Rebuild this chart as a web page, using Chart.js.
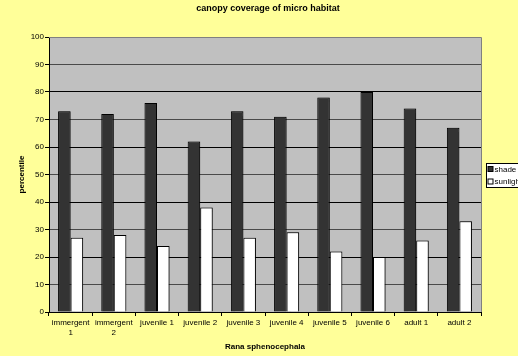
<!DOCTYPE html>
<html>
<head>
<meta charset="utf-8">
<style>
  html, body { margin: 0; padding: 0; background: #FFFF99; }
  #wrap { width: 518px; height: 356px; }
</style>
<script src="https://cdn.jsdelivr.net/npm/chart.js@4/dist/chart.umd.min.js"></script>
</head>
<body>
<div id="wrap"><canvas id="c" width="518" height="356"></canvas></div>
<script>
// Life stages of Rana sphenocephala
const stages = [["immergent", "1"], ["immergent", "2"], "juvenile 1", "juvenile 2", "juvenile 3",
                "juvenile 4", "juvenile 5", "juvenile 6", "adult 1", "adult 2"];
// Percent canopy coverage per stage
const shade    = [73, 72, 76, 62, 73, 71, 78, 80, 74, 67];
const sunlight = [27, 28, 24, 38, 27, 29, 22, 20, 26, 33];
const seriesNames = ["shade", "sunlight"];
const chartTitle = 'canopy coverage of micro habitat';
const yTicks = { min: 0, max: 100, step: 10 };

const FONT = "'Liberation Sans', Arial, sans-serif";

// grey plot backdrop plus the grey top/right frame
const plotArea = {
  id: 'plotArea',
  beforeDraw(chart) {
    const { ctx, chartArea: a } = chart;
    ctx.save();
    ctx.fillStyle = '#FFFF99';
    ctx.fillRect(0, 0, chart.width, chart.height);
    ctx.fillStyle = '#C0C0C0';
    ctx.fillRect(a.left, a.top, a.right - a.left, a.bottom - a.top);
    ctx.restore();
  },
  beforeDatasetsDraw(chart) {
    // soft edge around each bar
    const { ctx } = chart;
    ctx.save();
    ctx.shadowColor = 'rgba(0,0,0,0.35)';
    ctx.shadowBlur = 1.5;
    ctx.shadowOffsetX = 1;
    ctx.shadowOffsetY = 0;
  },
  afterDatasetsDraw(chart) {
    const { ctx, chartArea: a } = chart;
    ctx.restore();
    ctx.save();
    ctx.strokeStyle = '#808080';
    ctx.lineWidth = 1;
    ctx.beginPath();
    ctx.moveTo(a.left, Math.round(a.top) + 0.5);
    ctx.lineTo(Math.round(a.right) + 0.5, Math.round(a.top) + 0.5);
    ctx.lineTo(Math.round(a.right) + 0.5, a.bottom);
    ctx.stroke();
    ctx.restore();
  }
};

// chart heading, centred over the whole figure
const heading = {
  id: 'heading',
  afterDraw(chart) {
    const { ctx } = chart;
    ctx.save();
    ctx.font = 'bold 9px ' + FONT;
    ctx.fillStyle = '#000';
    ctx.textAlign = 'center';
    ctx.textBaseline = 'middle';
    ctx.fillText(chartTitle, 268, 9);
    ctx.restore();
  }
};

// boxed legend on the right edge
const boxLegend = {
  id: 'boxLegend',
  afterDraw(chart) {
    const { ctx } = chart;
    const x = 486.5, y = 163.5, w = 44, h = 24;
    ctx.save();
    ctx.fillStyle = '#FFFFFF';
    ctx.fillRect(x, y, w, h);
    ctx.strokeStyle = '#000';
    ctx.lineWidth = 1;
    ctx.strokeRect(x, y, w, h);
    ctx.font = '8px ' + FONT;
    ctx.textBaseline = 'middle';
    chart.data.datasets.forEach((ds, i) => {
      const ry = y + 6 + i * 12.5;
      ctx.fillStyle = ds.backgroundColor;
      ctx.fillRect(x + 1.5, ry - 3, 5, 5);
      ctx.strokeStyle = '#000';
      ctx.strokeRect(x + 1.5, ry - 3, 5, 5);
      ctx.fillStyle = '#000';
      ctx.fillText(ds.label, x + 8, ry);
    });
    ctx.restore();
  }
};

new Chart(document.getElementById('c'), {
  type: 'bar',
  data: {
    labels: stages,
    datasets: [
      { label: seriesNames[0], data: shade, backgroundColor: '#333333', borderColor: '#000', borderWidth: 1 },
      { label: seriesNames[1], data: sunlight, backgroundColor: '#FFFFFF', borderColor: '#000', borderWidth: 1 }
    ]
  },
  options: {
    responsive: false,
    animation: false,
    devicePixelRatio: 1,
    layout: { padding: { left: 0, right: 37, top: 37, bottom: 0 } },
    datasets: { bar: { categoryPercentage: 0.58, barPercentage: 1.0 } },
    plugins: {
      legend: { display: false },
      tooltip: { enabled: false },
      title: { display: false }
    },
    scales: {
      x: {
        afterFit(scale) { scale.height = 44; },
        border: { color: '#000', width: 1 },
        grid: { offset: true, drawOnChartArea: false, tickLength: 4, color: '#000' },
        ticks: { color: '#000', font: { family: FONT, size: 8 }, padding: 2, maxRotation: 0, autoSkip: false },
        title: {
          display: true,
          text: 'Rana sphenocephala',
          color: '#000',
          font: { family: FONT, size: 8, weight: 'bold' },
          padding: { top: 0, bottom: 4 }
        }
      },
      y: {
        min: yTicks.min,
        max: yTicks.max,
        afterFit(scale) { scale.width = 49; },
        border: { color: '#000', width: 1 },
        grid: {
          tickLength: 4,
          tickColor: '#000',
          color: (c) => {
            const v = c.tick ? c.tick.value : 0;
            if (v === yTicks.max) return 'rgba(0,0,0,0)';
            return v % 20 === 0 ? '#000000' : '#4a4a4a';
          }
        },
        ticks: { stepSize: yTicks.step, color: '#000', font: { family: FONT, size: 8 }, padding: 1 },
        title: {
          display: true,
          text: 'percentile',
          color: '#000',
          font: { family: FONT, size: 8, weight: 'bold' },
          padding: { top: 17, bottom: 0 }
        }
      }
    }
  },
  plugins: [plotArea, heading, boxLegend]
});
</script>
</body>
</html>
